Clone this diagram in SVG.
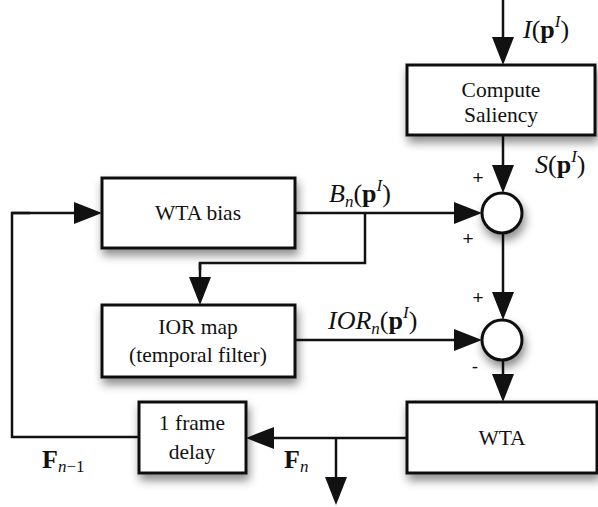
<svg xmlns="http://www.w3.org/2000/svg" width="598" height="507" viewBox="0 0 598 507">
<style>
.box{fill:#fff;stroke:#111;stroke-width:3;filter:url(#sh)}
.t{font-family:"Liberation Serif",serif;font-size:21.5px;fill:#111;text-anchor:middle}
.m{font-family:"Liberation Serif",serif;font-size:26px;fill:#111}
.s{font-family:"Liberation Sans",sans-serif;font-size:19px;fill:#111;text-anchor:middle}
.c{fill:none;stroke:#111;stroke-width:2.5;marker-end:url(#ah)}
.n{fill:none;stroke:#111;stroke-width:2.5}
</style>
<defs>
<filter id="sh" x="-20%" y="-20%" width="150%" height="160%">
<feDropShadow dx="2" dy="6" stdDeviation="5" flood-color="#000" flood-opacity="0.45"/>
</filter>
<marker id="ah" markerUnits="userSpaceOnUse" markerWidth="28" markerHeight="22" refX="20" refY="11" orient="auto">
<path d="M0,0 L28,11 L0,22 Z" fill="#111"/>
</marker>
</defs>
<g id="connectors">
<path class="c" d="M503,0 V57"/>
<path class="c" d="M503,135 V185"/>
<path class="c" d="M295,213 H474"/>
<path class="n" d="M365,213 V263 H200 V270"/>
<path class="c" d="M200,263 V297"/>
<path class="n" d="M139,437 H12 V213 H30"/>
<path class="c" d="M12,213 H94"/>
<path class="c" d="M295,340 H474"/>
<path class="c" d="M503,233 V312"/>
<path class="c" d="M503,361 V394"/>
<path class="c" d="M407,438 H254"/>
<path class="c" d="M336,438 V497"/>
</g>
<g id="compute-saliency">
<rect class="box" x="407" y="65" width="188" height="70"/>
<text class="t" x="501" y="97">Compute</text>
<text class="t" x="501" y="122">Saliency</text>
</g>
<g id="wta-bias">
<rect class="box" x="102" y="178" width="193" height="70"/>
<text class="t" x="198" y="220">WTA bias</text>
</g>
<g id="ior-map">
<rect class="box" x="102" y="305" width="193" height="72"/>
<text class="t" x="198" y="334">IOR map</text>
<text class="t" x="198" y="362">(temporal filter)</text>
</g>
<g id="delay">
<rect class="box" x="139" y="402" width="107" height="71"/>
<text class="t" x="192" y="430">1 frame</text>
<text class="t" x="192" y="459">delay</text>
</g>
<g id="wta">
<rect class="box" x="407" y="402" width="190" height="71"/>
<text class="t" x="502" y="445">WTA</text>
</g>
<g id="sum1">
<circle cx="502" cy="213" r="20" fill="#fff" stroke="#111" stroke-width="3" filter="url(#sh)"/>
</g>
<g id="sum2">
<circle cx="502" cy="340" r="20" fill="#fff" stroke="#111" stroke-width="3" filter="url(#sh)"/>
</g>
<g id="labels">
<text class="m" x="523" y="38"><tspan font-style="italic">I</tspan>(<tspan font-weight="bold">p</tspan><tspan font-style="italic" font-size="17" dy="-11">I</tspan><tspan dy="11">)</tspan></text>
<text class="m" x="535" y="173"><tspan font-style="italic">S</tspan>(<tspan font-weight="bold">p</tspan><tspan font-style="italic" font-size="17" dy="-11">I</tspan><tspan dy="11">)</tspan></text>
<text class="m" x="329" y="202"><tspan font-style="italic">B</tspan><tspan font-style="italic" font-size="17" dy="5">n</tspan><tspan dy="-5">(</tspan><tspan font-weight="bold">p</tspan><tspan font-style="italic" font-size="17" dy="-11">I</tspan><tspan dy="11">)</tspan></text>
<text class="m" x="328" y="329"><tspan font-style="italic">IOR</tspan><tspan font-style="italic" font-size="17" dy="5">n</tspan><tspan dy="-5">(</tspan><tspan font-weight="bold">p</tspan><tspan font-style="italic" font-size="17" dy="-11">I</tspan><tspan dy="11">)</tspan></text>
<text class="m" x="284" y="468"><tspan font-weight="bold">F</tspan><tspan font-style="italic" font-size="17" dy="4">n</tspan></text>
<text class="m" x="42" y="468"><tspan font-weight="bold">F</tspan><tspan font-style="italic" font-size="17" dy="4">n</tspan><tspan font-size="17">−1</tspan></text>
<text class="s" x="478" y="184">+</text>
<text class="s" x="468" y="245">+</text>
<text class="s" x="478" y="304">+</text>
<text class="s" x="475" y="373">-</text>
</g>
</svg>
